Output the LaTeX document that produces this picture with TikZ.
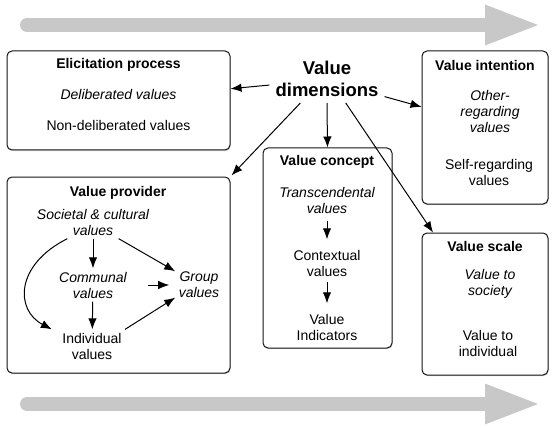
\documentclass[tikz,border=0pt]{standalone}
\usepackage{fontspec}
\setmainfont{Liberation Sans}
\usetikzlibrary{arrows.meta,positioning,shadows}
\definecolor{flowgray}{RGB}{200,200,200}
\definecolor{framegray}{RGB}{20,20,20}
\tikzset{dimbox/.style={rectangle,draw=framegray,line width=1pt,rounded corners=5pt,fill=white,
    drop shadow={shadow xshift=0.6pt,shadow yshift=-1.2pt,opacity=0.35}},
  boxtitle/.style={font=\fontsize{14}{16}\selectfont\bfseries},
  entry/.style={align=center,font=\fontsize{14}{16}\selectfont},
  entryit/.style={align=center,font=\fontsize{14}{16}\selectfont\itshape},
  link/.style={draw=black,line width=1pt,-{Latex[length=11pt,width=8.5pt]}},
  flow/.style={draw=flowgray,line width=14pt,line cap=round,-{Triangle[length=53pt,width=41pt,line width=0pt]}}}

\begin{document}
\begin{tikzpicture}[x=1pt,y=-1pt]
\useasboundingbox (0,0) rectangle (555,428);

% grey flow arrows
\coordinate (flowTL) at (27,25);
\coordinate (flowTR) at (538,25);
\coordinate (flowBL) at (27,404);
\coordinate (flowBR) at (538,404);
\draw[flow] (flowTL) -- (flowTR);
\draw[flow] (flowBL) -- (flowBR);

% boxes
\node[dimbox,minimum width=223pt,minimum height=99pt] (elic) at (118.5,100.5) {};
\node[dimbox,minimum width=223pt,minimum height=196pt] (prov) at (118.5,275) {};
\node[dimbox,minimum width=129pt,minimum height=200pt] (concept) at (327.5,248) {};
\node[dimbox,minimum width=126pt,minimum height=153pt] (intent) at (485,127.5) {};
\node[dimbox,minimum width=126pt,minimum height=142pt] (scale) at (485,304) {};

\node[align=center,inner sep=6pt,font=\fontsize{18.5}{22}\selectfont\bfseries] (dim) at (327,79) {Value\\dimensions};

% elicitation process
\node[boxtitle] (elicT) at (118.5,65) {Elicitation process};
\node[entryit] (delib) at (118.5,95) {Deliberated values};
\node[entry] (nondelib) at (118.5,125) {Non-deliberated values};

% value provider
\node[boxtitle] (provT) at (118,193) {Value provider};
\node[entryit] (soc) at (93,222) {Societal \& cultural\\values};
\node[entryit] (comm) at (93,285) {Communal\\values};
\node[entry] (indiv) at (92,346) {Individual\\values};
\node[entryit] (group) at (199,285) {Group\\values};

\draw[link] (soc) -- (comm);
\draw[link] (comm) -- (indiv);
\draw[link] (soc.-33) -- (group.150);
\draw[link,shorten <=18pt,shorten >=6pt] (comm) -- (group);
\draw[link] (indiv.north east) -- (group.208);
\draw[link] (soc.213) .. controls (15,265) and (15,310) .. ([xshift=-7pt]indiv.north west);

% value concept
\node[boxtitle] (conceptT) at (327,162) {Value concept};
\node[entryit] (trans) at (327,200) {Transcendental\\values};
\node[entry] (context) at (327,263) {Contextual\\values};
\node[entry] (indic) at (327,327) {Value\\Indicators};
\draw[link] ([yshift=-4pt]trans.south) -- ([yshift=7pt]context.north);
\draw[link] ([yshift=-2pt]context.south) -- ([yshift=7pt]indic.north);

% value intention
\node[boxtitle] (intentT) at (485,65) {Value intention};
\node[entryit] (other) at (490,111) {Other-\\regarding\\values};
\node[entry] (self) at (489,172.5) {Self-regarding\\values};

% value scale
\node[boxtitle] (scaleT) at (485,246) {Value scale};
\node[entryit] (society) at (490,283.5) {Value to\\society};
\node[entry] (toindiv) at (488,343) {Value to\\individual};

% from the dimensions
\draw[link] (dim.186) -- (elic.6);
\draw[link,shorten >=1.5pt] (dim.222) -- (prov.north east);
\draw[link] (dim.south) -- (concept.north);
\draw[link] (dim.308) -- (scale.126);
\draw[link] (dim.-17) -- (intent.162);

\end{tikzpicture}
\end{document}
